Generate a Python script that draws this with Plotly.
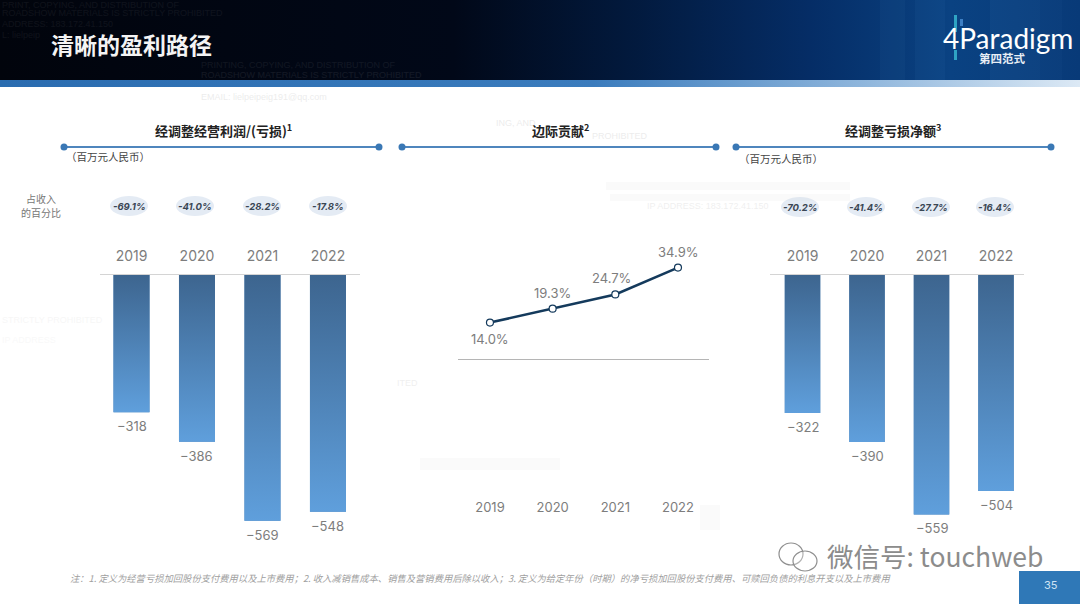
import plotly.graph_objects as go

W, H = 1080, 604
years = ["2019", "2020", "2021", "2022"]
op_loss = [-318, -386, -569, -548]
op_pct = ["-69.1%", "-41.0%", "-28.2%", "-17.8%"]
margin = [14.0, 19.3, 24.7, 34.9]
net_loss = [-322, -390, -559, -504]
net_pct = ["-70.2%", "-41.4%", "-27.7%", "-16.4%"]

CJK = "Noto Sans CJK SC"
NUM = "Inter, Lato, sans-serif"
GREY = "#7d7d7d"
BAR_SCALE = [[0, "#5f9fdc"], [1, "#3d658f"]]

fig = go.Figure()
px = lambda x: x / W
py = lambda y: 1 - y / H


def dom_x(a, b):
    return [a / W, b / W]


def dom_y(top, bottom):
    return [1 - bottom / H, 1 - top / H]


def text(x, y, s, size=12, color="#333", font=CJK, anchor="center", opacity=1, **kw):
    fig.add_annotation(xref="paper", yref="paper", x=px(x), y=py(y), text=s, showarrow=False,
                       xanchor=anchor, yanchor="middle", opacity=opacity,
                       font=dict(size=size, color=color, family=font), **kw)


def rect(x0, y0, x1, y1, color, opacity=1, kind="rect", line=None, lw=0):
    fig.add_shape(type=kind, xref="paper", yref="paper", x0=px(x0), x1=px(x1), y0=py(y0), y1=py(y1),
                  fillcolor=color, opacity=opacity, line=dict(color=line or color, width=lw))


# pixel canvas axes for gradient backgrounds
fig.update_layout(
    xaxis=dict(domain=[0, 1], range=[0, W], visible=False, fixedrange=True),
    yaxis=dict(domain=[0, 1], range=[H, 0], visible=False, fixedrange=True),
)
fig.add_trace(go.Scatter(x=[0, W, W, 0, 0], y=[0, 0, 80, 80, 0], mode="none", fill="toself",
                         fillgradient=dict(type="horizontal", colorscale=[
                             [0, "#01040c"], [0.42, "#010818"], [0.58, "#02193c"], [0.75, "#052d66"],
                             [0.88, "#0a4282"], [1, "#083a78"]]),
                         showlegend=False, hoverinfo="skip", xaxis="x", yaxis="y"))
fig.add_trace(go.Scatter(x=[0, W, W, 0, 0], y=[80, 80, 87, 87, 80], mode="none", fill="toself",
                         fillgradient=dict(type="horizontal", colorscale=[
                             [0, "#2a6cb0"], [0.55, "#3b7cbd"], [0.8, "#8fb6dc"], [1, "#dce9f5"]]),
                         showlegend=False, hoverinfo="skip", xaxis="x", yaxis="y"))
for x0, x1, op in [(880, 905, .05), (915, 945, .06), (990, 1040, .07), (1040, 1062, .04)]:
    rect(x0, 0, x1, 80, "#5aa0d8", op)


def bar_panel(values, xa, ya, dx, dy, xr, yr):
    fig.add_trace(go.Bar(x=list(range(4)), y=values, width=0.55, marker=dict(color="#4e82b6", line_width=0),
                         showlegend=False, hoverinfo="skip", xaxis=xa, yaxis=ya))
    for i, v in enumerate(values):
        fig.add_trace(go.Scatter(x=[i - .275, i + .275, i + .275, i - .275, i - .275],
                                 y=[0, 0, v, v, 0], mode="none", fill="toself",
                                 fillgradient=dict(type="vertical", colorscale=BAR_SCALE),
                                 showlegend=False, hoverinfo="skip", xaxis=xa, yaxis=ya))
        fig.add_annotation(xref=xa, yref=ya, x=i, y=v, text=f"\u2212{abs(v)}", showarrow=False, yshift=-14,
                           font=dict(size=13, color=GREY, family=NUM))
    fig.update_layout({
        "xaxis" + xa[1:]: dict(domain=dx, range=xr, side="top", anchor=ya, tickvals=list(range(4)), ticktext=years,
                               ticks="outside", ticklen=7, tickcolor="rgba(0,0,0,0)", showgrid=False, zeroline=False,
                               showline=True, linecolor="#d4d4d4", linewidth=1, fixedrange=True,
                               tickfont=dict(size=14, color=GREY, family=NUM)),
        "yaxis" + ya[1:]: dict(domain=dy, range=yr, anchor=xa, visible=False, fixedrange=True),
    })


bar_panel(op_loss, "x2", "y2", dom_x(100, 360), dom_y(275, 535), [-0.481, 3.489], [-602, 0])
bar_panel(net_loss, "x4", "y4", dom_x(770, 1024), dom_y(275, 535), [-0.504, 3.434], [-607, 0])

# margin line
xs = list(range(4))
fig.add_trace(go.Scatter(x=xs, y=margin, mode="lines+markers", line=dict(color="#143a5c", width=2.6),
                         marker=dict(size=7, color="white", line=dict(color="#143a5c", width=1.2)),
                         showlegend=False, hoverinfo="skip", xaxis="x3", yaxis="y3", cliponaxis=False))
fig.update_layout(
    xaxis3=dict(domain=dom_x(458, 709), range=[-0.51, 3.495], anchor="y3", tickvals=xs, ticktext=years,
                showgrid=False, zeroline=False, showline=False, ticks="", fixedrange=True,
                tickfont=dict(size=13, color=GREY, family=NUM)),
    yaxis3=dict(domain=dom_y(240, 498), range=[-52.7, 45.4], anchor="x3", showgrid=False, showticklabels=False,
                ticks="", zeroline=True, zerolinecolor="#b5b5b5", zerolinewidth=1, fixedrange=True),
)
for i, (m, dy_, dx_) in enumerate(zip(margin, [-16, 16, 16, 16], [0, 0, -4, 0])):
    fig.add_annotation(xref="x3", yref="y3", x=i, y=m, text=f"{m:.1f}%", showarrow=False, yshift=dy_, xshift=dx_,
                       font=dict(size=13, color=GREY, family=NUM))

# heading rules
for x0, x1 in [(64, 379), (402, 716), (736, 1051)]:
    fig.add_shape(type="line", xref="paper", yref="paper", x0=px(x0), x1=px(x1), y0=py(147), y1=py(147),
                  line=dict(color="#4f86bd", width=2))
    for x in (x0, x1):
        rect(x - 3.5, 143.5, x + 3.5, 150.5, "#3a78b5", kind="circle")

text(223, 130, "<b>经调整经营利润/(亏损)<sup>1</sup></b>", 13, "#222")
text(560, 130, "<b>边际贡献<sup>2</sup></b>", 13, "#222")
text(893, 130, "<b>经调整亏损净额<sup>3</sup></b>", 13, "#222")
text(108, 157, "（百万元人民币）", 10.5, "#444")
text(781, 158, "（百万元人民币）", 10.5, "#444")
text(41, 199, "占收入", 10, "#777")
text(41, 213, "的百分比", 10, "#777")

# percent pills
for xs_, labels, y in [([129, 195, 262, 328], op_pct, 206), ([800, 866, 931, 995], net_pct, 207)]:
    for x, s in zip(xs_, labels):
        rect(x - 19, y - 10, x + 19, y + 10, "#e4ebf4", kind="circle")
        text(x, y, f"<b><i>{s}</i></b>", 9.5, "#3a4654", NUM)

# header
text(49, 44, "<b>清晰的盈利路径</b>", 23, "#f4f4f4", anchor="left")
text(1008, 38, "4Paradigm", 28, "#ffffff", "Lato, sans-serif")
text(1002, 58, "<b>第四范式</b>", 11.5, "#e8eef5")
rect(954, 15, 957, 32, "#2fa4c4")
rect(960, 19, 963, 26, "#3d7fc4")
rect(954, 50, 957, 60, "#2fa4c4")

# faint watermark text
for x, y, s, op, c in [
    (0, 5, "PRINT, COPYING, AND DISTRIBUTION OF", .05, "#ffffff"),
    (0, 13, "ROADSHOW MATERIALS IS STRICTLY PROHIBITED", .05, "#ffffff"),
    (0, 24, "ADDRESS: 183.172.41.150", .05, "#ffffff"),
    (0, 35, "L: lielpeip", .05, "#ffffff"),
    (199, 65, "PRINTING, COPYING, AND DISTRIBUTION OF", .06, "#ffffff"),
    (199, 75, "ROADSHOW MATERIALS IS STRICTLY PROHIBITED", .07, "#ffffff"),
    (199, 97, "EMAIL: lielpeipeig191@qq.com", .18, "#999999"),
    (494, 123, "ING, AND", .18, "#999999"),
    (590, 136, "PROHIBITED", .18, "#999999"),
    (645, 206, "IP ADDRESS: 183.172.41.150", .15, "#999999"),
    (0, 320, "STRICTLY PROHIBITED", .08, "#999999"),
    (395, 383, "ITED", .15, "#999999"),
    (0, 340, "IP ADDRESS", .06, "#999999"),
]:
    text(x, y, s, 9, c, "Liberation Sans", anchor="left", opacity=op)
for x0, y0, x1, y1 in [(606, 182, 850, 190), (610, 194, 850, 201), (420, 458, 560, 470), (700, 505, 720, 530)]:
    rect(x0, y0, x1, y1, "#cfcfcf", .10)

# footnote
text(68, 578, "<i>注：1. 定义为经营亏损加回股份支付费用以及上市费用；2. 收入减销售成本、销售及营销费用后除以收入；"
              "3. 定义为给定年份（时期）的净亏损加回股份支付费用、可赎回负债的利息开支以及上市费用</i>",
     9.3, "#a0a0a0", anchor="left")

# WeChat watermark
rect(779, 543, 803, 565, "rgba(255,255,255,0.3)", kind="circle", line="#8f8f8f", lw=1.2)
rect(793, 551, 817, 571, "rgba(255,255,255,0.3)", kind="circle", line="#8f8f8f", lw=1.2)
text(825, 555, "微信号: touchweb", 26.5, "#8c8c8c", anchor="left")

# page tag
rect(1019, 571, 1080, 604, "#2f78b7")
text(1051, 585, "35", 11, "#cfe3f4", NUM)

fig.update_layout(width=W, height=H, margin=dict(l=0, r=0, t=0, b=0), autosize=False, showlegend=False,
                  paper_bgcolor="white", plot_bgcolor="rgba(0,0,0,0)", barmode="overlay")
fig.write_html("out.html", config={"displayModeBar": False},
               post_script="document.body.style.margin='0';document.body.style.overflow='hidden';")
